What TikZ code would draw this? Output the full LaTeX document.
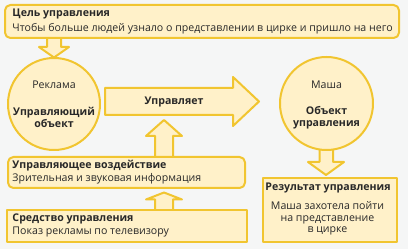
\documentclass[tikz,border=0pt]{standalone}
\usepackage{fontspec}
\setmainfont{Open Sans}

\definecolor{bgcol}{RGB}{245,246,246}
\definecolor{fillcol}{RGB}{255,241,201}
\definecolor{bordcol}{RGB}{241,197,48}
\definecolor{txtcol}{RGB}{40,40,40}

\tikzset{every picture/.style={line width=0.75pt}}
\tikzset{
  yellowshape/.style={draw=bordcol, fill=fillcol, line width=1.5pt, line join=round},
  txt/.style={inner sep=0.75pt, text=txtcol, font=\fontsize{7.95}{8.6}\selectfont},
  btxt/.style={txt, font=\fontsize{7.95}{8.6}\selectfont\bfseries},
}

\begin{document}
\begin{tikzpicture}[x=0.75pt,y=0.75pt,yscale=-1,xscale=1]
\useasboundingbox (0,0) rectangle (408,249);
\fill[bgcol] (0,0) rectangle (408,249);

%Shape: Down Arrow [id:goal-to-ad]
\draw [yellowshape]  (47,36) -- (61,36) -- (61,47) -- (69,47) -- (54,57.5) -- (39,47) -- (47,47) -- cycle ;
%Shape: Right Arrow [id:manages]
\draw [yellowshape]  (105,88) -- (233,88) -- (233,77) -- (259,101.5) -- (233,126) -- (233,115) -- (105,115) -- cycle ;
%Shape: Up Arrow [id:action-to-manages]
\draw [yellowshape]  (155,159) -- (155,136) -- (146,136) -- (164,120) -- (182,136) -- (173,136) -- (173,159) -- cycle ;
%Shape: Up Arrow [id:means-to-action]
\draw [yellowshape]  (155,212) -- (155,199.5) -- (146,199.5) -- (164,192.5) -- (182,199.5) -- (173,199.5) -- (173,212) -- cycle ;
%Shape: Down Arrow [id:masha-to-result]
\draw [yellowshape]  (319.5,146) -- (333,146) -- (333,162) -- (344,162) -- (326,175) -- (308,162) -- (319.5,162) -- cycle ;

%Shape: Rectangle [id:goal]
\draw [yellowshape, rounded corners=4pt]  (5,5) rectangle (399,38) ;
%Shape: Circle [id:ad]
\draw [yellowshape]  (54,104) circle (46) ;
%Shape: Circle [id:masha]
\draw [yellowshape]  (326.5,103.5) circle (46.5) ;
%Shape: Rectangle [id:action]
\draw [yellowshape, rounded corners=4pt]  (8,157) rectangle (245,188) ;
%Shape: Rectangle [id:means]
\draw [yellowshape]  (7,210) rectangle (247,242) ;
%Shape: Rectangle [id:result]
\draw [yellowshape]  (263,178) rectangle (397,242) ;

% Text Node
\node [btxt, anchor=west] (goalhead) at (11,14) {Цель управления};
% Text Node
\node [txt, anchor=west] (goalbody) at (11,29) {Чтобы больше людей узнало о представлении в цирке и пришло на него};
% Text Node
\node [txt] (adname) at (54,85) {Реклама};
% Text Node
\node [btxt, align=center] (adrole) at (54,117.5) {Управляющий\\объект};
% Text Node
\node [btxt] (manages) at (174,102) {Управляет};
% Text Node
\node [txt] (mashaname) at (326.5,85) {Маша};
% Text Node
\node [btxt, align=center] (masharole) at (326.5,117.5) {Объект\\управления};
% Text Node
\node [btxt, anchor=west] (actionhead) at (11,166) {Управляющее воздействие};
% Text Node
\node [txt, anchor=west] (actionbody) at (11,179) {Зрительная и звуковая информация};
% Text Node
\node [btxt, anchor=west] (meanshead) at (11,219) {Средство управления};
% Text Node
\node [txt, anchor=west] (meansbody) at (11,232) {Показ рекламы по телевизору};
% Text Node
\node [btxt] (resulthead) at (328,188) {Результат управления};
% Text Node
\node [txt, align=center] (resultbody) at (327.5,218.5) {Маша захотела пойти\\на представление\\в цирке};

\end{tikzpicture}
\end{document}
